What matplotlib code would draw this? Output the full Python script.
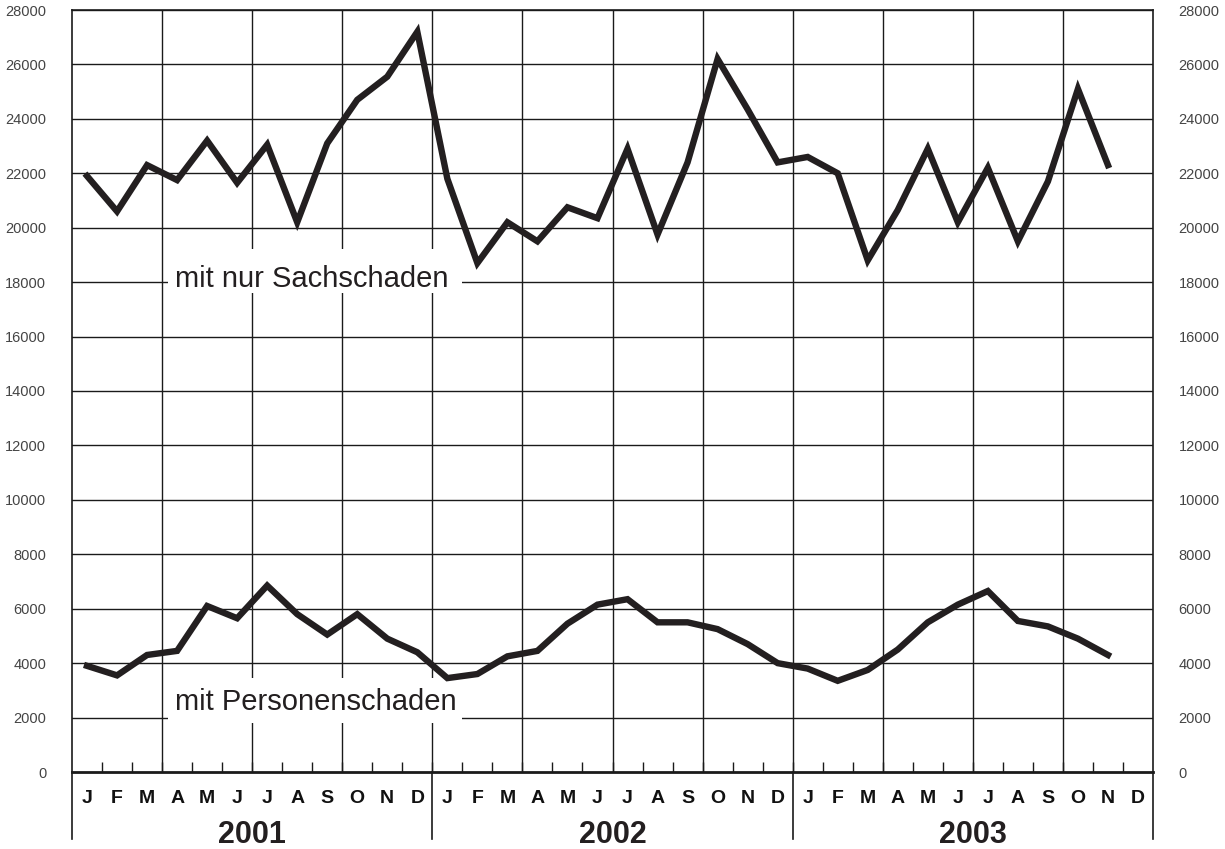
import numpy as np
import matplotlib
matplotlib.use("Agg")
import matplotlib.pyplot as plt
from matplotlib.patches import Rectangle
from matplotlib.transforms import blended_transform_factory

plt.rcParams['font.family'] = ['Liberation Sans', 'DejaVu Sans']

months = ['J', 'F', 'M', 'A', 'M', 'J', 'J', 'A', 'S', 'O', 'N', 'D']
years = ['2001', '2002', '2003']

# Unfaelle mit nur Sachschaden, Jan 2001 - Nov 2003
sach = [21900, 20600, 22300, 21750, 23200, 21650, 23050, 20200, 23100, 24700, 25550, 27200,
        21800, 18700, 20200, 19500, 20750, 20350, 22900, 19750, 22400, 26200, 24350, 22400,
        22600, 22000, 18800, 20650, 22900, 20200, 22200, 19500, 21700, 25100, 22300]

# Unfaelle mit Personenschaden
person = [3900, 3550, 4300, 4450, 6100, 5650, 6850, 5800, 5050, 5800, 4900, 4400,
          3450, 3600, 4250, 4450, 5450, 6150, 6350, 5500, 5500, 5250, 4700, 4000,
          3800, 3350, 3750, 4500, 5500, 6150, 6650, 5550, 5350, 4900, 4300]

y_ticks = list(range(0, 28001, 2000))

n_months = len(months) * len(years)
x = np.arange(len(sach)) + 0.5

fig = plt.figure(figsize=(12.25, 8.49), dpi=100)
ax = fig.add_axes([72 / 1225, 77 / 849, 1081 / 1225, 762 / 849])

ax.set_xlim(0, n_months)
ax.set_ylim(0, 28000)

# grid
for yt in y_ticks[1:]:
    ax.axhline(yt, color='#1a1a1a', lw=1.0, zorder=1)
for xv in range(3, n_months, 3):
    ax.axvline(xv, color='#1a1a1a', lw=1.0, zorder=1)

# white boxes behind the series labels
ax.add_patch(Rectangle((3.2, 17600), 9.8, 1620, facecolor='white', edgecolor='none', zorder=2))
ax.add_patch(Rectangle((3.2, 1800), 9.8, 1650, facecolor='white', edgecolor='none', zorder=2))

ax.plot(x, sach, color='#231f20', lw=4.6, solid_joinstyle='miter', zorder=3)
ax.plot(x, person, color='#231f20', lw=4.6, solid_joinstyle='miter', zorder=3)

ax.text(3.43, 17820, 'mit nur Sachschaden', fontsize=21, color='#231f20',
        va='baseline', ha='left', zorder=4)
ax.text(3.43, 2280, 'mit Personenschaden', fontsize=21, color='#231f20',
        va='baseline', ha='left', zorder=4)

# axes
for s in ['top', 'left', 'right']:
    ax.spines[s].set_linewidth(1.2)
    ax.spines[s].set_color('#1a1a1a')
ax.spines['bottom'].set_linewidth(2.0)
ax.spines['bottom'].set_color('#1a1a1a')

ax.set_yticks(y_ticks)
ax.set_yticklabels([str(v) for v in y_ticks])
ax.tick_params(axis='y', left=False, right=False, labelleft=True, labelright=True,
               labelsize=10.5, labelcolor='#444444', pad=15)

ax.set_xticks(x.tolist() + [n_months - 0.5])
ax.set_xticklabels(months * len(years), fontsize=14, fontweight='bold', color='#111111')
ax.set_xticks(range(1, n_months), minor=True)
ax.tick_params(axis='x', which='major', length=0, pad=13)
ax.tick_params(axis='x', which='minor', direction='in', length=7, width=1.0, color='#1a1a1a')

trans = blended_transform_factory(ax.transData, ax.transAxes)
for k in range(len(years) + 1):
    ax.plot([12 * k, 12 * k], [0, -0.088], transform=trans, color='#1a1a1a',
            lw=1.2, clip_on=False)
for k, yr in enumerate(years):
    ax.text(12 * k + 6, -0.093, yr, transform=trans, ha='center', va='baseline',
            fontsize=22, fontweight='bold', color='#231f20')

fig.savefig('out.png', dpi=100)
